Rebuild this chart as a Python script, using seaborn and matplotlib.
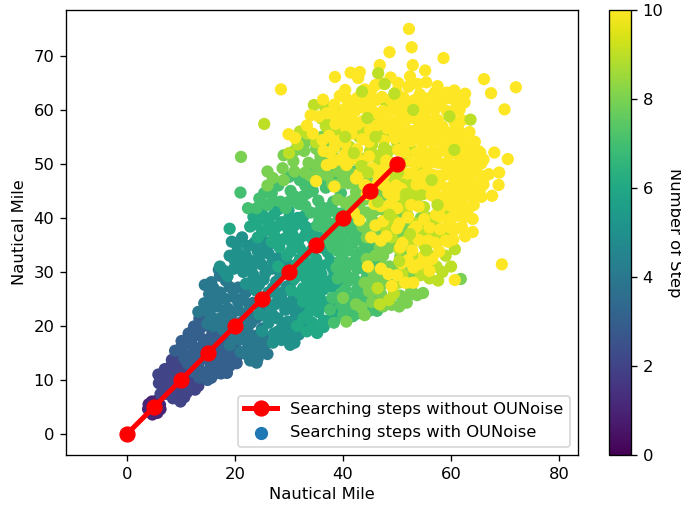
#OUNoise search scatter
import pandas as pd
import matplotlib.pyplot as plt
import seaborn as sns
from matplotlib.cm import ScalarMappable
from matplotlib.colors import Normalize

plt.rcParams['font.size'] = 9.8

# Points, (x, y) per step
step1 = [(3.9,4.6),(4.0,5.5),(4.6,6.0),(5.4,6.1),(6.1,5.4),(6.2,4.6),(5.6,3.9),(4.7,3.6),(5.0,5.0),(4.4,4.2),(5.6,5.3)]
step2 = [(5.8,11),(6.5,10.4),(7.4,11.4),(8.3,13.7),(8.9,14.2),(8.0,12.4),(9.4,13.2),(10.1,13.5),(10.8,12.6),(9.2,11.4),
         (7.7,9.6),(6.6,8.7),(7.4,7.4),(8.8,9.5),(10.1,10.8),(11.6,11.2),(12.0,9.8),(10.7,9.0),(9.3,7.9),(8.5,6.6),
         (9.9,6.0),(11.1,7.7),(12.6,8.2),(13.2,8.9),(13.0,10.6),(7.2,8.5),(6.2,7.4),
         (7.0,10.0),(9.0,12.4),(8.2,10.8),(10.0,12.0),(11.0,10.2),(9.8,8.8),(8.2,7.8),(12.4,9.4),(9.0,6.8),(10.6,6.8),(5.9,9.4),(7.0,12.0)]
step3 = [(8.9,15.4),(10.1,17.2),(11.4,18.6),(12.4,19.9),(13.4,21.4),(14.5,20.2),(13.3,18.3),(11.9,16.6),(10.4,15.1),
         (11.8,14.5),(13.1,15.8),(14.6,17.4),(15.8,18.9),(16.6,17.0),(15.3,15.6),(13.9,13.9),(12.7,12.6),(14.0,11.4),
         (15.5,12.9),(16.9,14.4),(18.2,15.6),(19.2,14.1),(17.7,12.7),(16.3,11.2),(14.9,10.0),(18.5,11.3),(20.3,13.1),
         (19.8,15.8),(17.9,17.4),(12.4,11.5),(11.2,13.0),(20.5,14.6),
         (10.0,16.0),(12.0,17.6),(13.6,19.6),(12.6,14.8),(14.0,16.4),(15.2,17.6),(16.8,15.8),(17.4,18.4),(15.0,14.4),(13.2,12.6),
         (15.0,11.6),(16.8,13.0),(18.2,14.0),(19.0,12.6),(17.4,11.2),(15.6,10.4),(12.0,13.4),(10.6,14.0),(16.4,19.8),(19.0,17.0),
         (20.0,16.6),(13.4,10.4)]
step4 = [(14.4,27.6),(15.6,28.1),(15.2,25.9),(14.3,24.2),(13.2,22.6),(15.9,24.0),(17.2,26.2),(18.3,28.4),(17.2,29.3),
         (16.7,23.6),(15.4,22.0),(14.9,20.4),(17.0,21.3),(18.7,23.2),(19.7,25.4),(20.6,27.1),(21.4,25.0),(20.6,22.9),
         (19.0,21.0),(17.7,19.4),(19.5,18.8),(21.0,20.6),(22.4,22.4),(23.4,24.3),(24.0,21.5),(22.3,19.3),(20.8,17.5),
         (22.4,16.7),(24.0,18.2),(25.0,19.5),(23.5,15.2),(24.2,14.0),(21.0,15.2),(22.8,13.6),(19.0,16.5),(25.5,16.5),(26.0,14.8),
         (15.0,23.0),(16.0,27.0),(16.6,25.0),(18.2,25.0),(19.0,27.2),(18.0,22.0),(16.0,20.0),(19.4,22.2),(20.6,24.4),(22.0,26.2),
         (22.6,24.0),(21.8,21.2),(20.0,19.6),(18.4,20.0),(23.0,20.6),(24.8,22.8),(23.4,18.0),(21.8,18.0),(20.0,17.6),(23.8,16.4),
         (25.2,18.0),(22.0,14.8),(24.0,13.2),(25.0,15.4),(17.0,30.4)]
step5 = [(17.2,31.0),(19.0,33.0),(19.4,35.6),(20.3,35.2),(21.3,36.4),(22.4,34.8),(21.0,32.4),(19.8,30.6),(18.6,29.2),
         (21.5,30.0),(23.0,32.0),(24.2,33.8),(25.2,35.8),(26.2,33.4),(24.9,31.4),(23.4,29.4),(22.0,27.8),(23.8,26.6),
         (25.3,28.6),(26.8,30.6),(28.0,32.6),(29.0,30.2),(27.6,28.2),(26.2,26.2),(24.9,24.4),(26.6,23.4),(28.0,25.3),
         (29.6,27.3),(30.8,25.0),(29.3,23.0),(27.9,21.4),(26.2,20.6),(28.0,19.0),(29.8,20.8),(31.2,22.4),(30.0,18.4),
         (31.0,16.9),(30.2,16.5),(27.0,16.9),(28.6,17.4),(24.5,22.2),(32.6,20.4),(32.0,23.6),
         (18.0,30.2),(20.0,32.0),(20.4,33.8),(22.0,33.0),(23.6,35.4),(21.4,31.0),(23.0,30.4),(24.4,32.4),(25.6,34.0),(27.0,35.4),
         (27.0,32.0),(25.6,29.8),(24.4,27.6),(22.8,28.0),(27.0,27.0),(28.4,29.4),(29.6,31.6),(30.6,28.4),(28.8,26.2),(27.4,24.0),
         (25.6,25.0),(25.8,21.8),(29.0,24.4),(30.4,23.6),(27.0,22.0),(28.8,20.0),(30.4,19.4),(27.2,18.6),(29.2,18.0),(31.8,18.4),
         (31.8,21.0),(33.0,23.0),(25.0,19.0)]
step6 = [(19.0,38.0),(22.8,38.4),(23.4,40.2),(24.9,41.0),(26.2,39.0),(25.0,37.4),(24.2,36.4),(27.2,37.0),(28.6,39.2),
         (29.9,41.4),(31.0,38.6),(29.6,36.4),(28.2,34.6),(30.3,33.8),(31.8,36.0),(33.0,38.4),(34.4,36.0),(33.0,33.4),
         (31.4,31.4),(33.4,30.4),(35.0,32.4),(36.4,34.4),(37.6,32.0),(36.0,29.6),(34.3,27.8),(32.6,27.0),(34.6,25.0),
         (36.4,26.8),(38.0,28.6),(39.0,26.2),(37.2,24.4),(35.4,22.6),(33.4,22.0),(34.6,19.6),(36.4,21.0),(38.0,22.6),
         (35.2,18.7),(33.3,19.0),(31.5,20.0),(39.4,23.5),(32.6,24.5),(34.3,20.6),
         (24.0,38.8),(25.6,40.0),(27.2,40.6),(27.8,38.4),(29.8,38.0),(28.8,36.0),(26.8,35.6),(30.0,40.0),(31.6,40.0),(33.0,36.8),
         (32.0,34.4),(30.6,35.2),(32.0,32.4),(34.2,34.0),(35.6,36.4),(34.6,30.6),(36.0,31.2),(37.2,33.6),(37.0,28.0),(35.0,28.6),
         (33.4,26.4),(35.6,25.6),(38.0,27.2),(38.4,24.6),(36.0,23.6),(34.0,23.4),(32.6,21.4),(37.4,21.0),(39.0,21.8),(36.4,19.8),
         (38.0,30.8),(31.0,28.8),(33.0,29.0),
         (26.0,37.8),(28.0,41.6),(30.6,37.0),(32.6,40.2),(34.4,38.0),(35.0,34.4),(33.2,31.6),(31.0,30.0),(29.6,33.0),(28.0,31.0),
         (32.0,26.0),(34.0,25.6),(36.0,24.6),(38.4,29.8),(39.4,28.0),(37.0,35.6),(35.4,27.0),(30.4,26.6),(33.8,28.8),(32.0,29.8)]
step7 = [(21.0,44.7),(22.4,41.8),(24.5,43.6),(26.8,44.6),(28.4,43.0),(30.3,45.0),(32.0,47.0),(33.4,44.6),(31.8,42.6),
         (34.0,41.0),(35.4,43.2),(36.8,45.6),(38.2,43.0),(36.8,40.6),(35.2,38.6),(37.3,37.2),(39.0,39.4),(40.4,41.2),
         (41.4,38.6),(39.8,36.4),(38.0,34.6),(40.0,33.4),(41.8,35.4),(43.2,37.2),(44.0,34.4),(42.4,32.4),(40.4,30.4),
         (38.8,30.8),(42.0,28.8),(43.8,30.6),(45.2,31.8),(40.4,26.8),(42.0,25.4),(43.6,27.0),(39.6,24.0),(41.2,23.2),
         (42.6,22.3),(46.3,22.8),(38.3,20.6),(44.6,24.6),(47.6,28.0),(46.2,48.0),(42.0,48.5),(38.6,48.2),(34.6,49.0),(30.0,47.6),
         (26.0,42.4),(28.0,46.0),(29.4,41.8),(31.0,44.0),(33.0,46.0),(35.0,47.0),(33.0,42.2),(35.4,41.0),(37.4,39.0),(38.0,41.4),
         (39.6,44.6),(37.2,46.8),(41.4,43.0),(42.4,40.0),(40.4,38.0),(38.4,36.0),(36.4,38.4),(41.4,37.0),(43.0,33.6),(41.0,31.6),
         (39.4,32.0),(44.8,36.0),(45.4,33.6),(42.6,30.6),(44.4,29.0),(41.0,28.4),(42.6,26.8),(39.0,28.8),(41.0,24.8),(43.0,24.4),
         (44.8,22.8),(40.0,22.0),(46.4,25.4),(47.0,30.0),(36.0,42.0),
         (24.0,41.8),(25.4,44.6),(27.0,43.2),(30.0,43.0),(32.6,44.0),(34.4,45.0),(35.6,39.6),(37.6,42.0),(39.0,40.8),(40.8,39.6),
         (39.2,37.6),(37.0,35.8),(38.8,34.0),(41.0,34.0),(42.8,36.0),(44.6,38.0),(42.4,38.2),(44.0,32.0),(46.4,31.4),(46.0,35.0),
         (40.8,29.2),(43.0,28.0),(45.0,27.6),(38.0,25.2),(40.0,23.4),(41.8,21.8),(43.4,25.6),(37.6,23.0),(39.6,26.0),(42.6,41.8),(40.0,35.0)]
step8 = [(21.1,51.3),(27.0,47.4),(28.8,49.2),(30.8,50.5),(32.8,52.4),(34.6,54.4),(33.6,50.2),(35.8,51.4),(37.4,53.4),
         (39.0,55.0),(40.4,52.6),(38.6,50.4),(37.2,47.8),(39.6,46.4),(41.4,48.4),(43.0,50.4),(44.4,46.6),(42.4,44.8),
         (40.4,42.8),(43.0,41.8),(45.0,43.8),(46.8,44.6),(47.6,41.4),(45.4,39.6),(43.6,38.4),(46.6,36.8),(48.6,38.6),
         (50.4,36.4),(48.4,34.4),(46.0,33.0),(48.6,31.0),(50.6,32.8),(45.4,28.4),(47.0,26.0),(44.8,26.4),(49.4,27.8),
         (40.6,20.8),(43.4,23.4),(53.7,25.7),(54.8,26.1),(61.8,28.7),(49.0,23.9),(51.8,24.3),(52.6,30.0),(52.6,34.4),(54.4,40.0),(51.0,41.0),
         (26.0,46.0),(26.0,48.6),(29.0,51.6),(31.0,52.4),(33.0,54.0),(36.0,55.0),(37.0,50.0),(35.0,49.8),(38.0,52.0),(41.6,50.8),
         (39.0,48.6),(41.0,46.4),(43.4,46.4),(42.0,43.4),(44.4,41.0),(45.8,45.2),(48.4,43.0),(46.0,41.4),(44.8,38.2),(47.6,37.8),
         (49.6,40.0),(51.8,38.0),(49.8,35.0),(47.4,33.0),(44.4,32.4),(49.8,31.0),(51.0,30.0),(46.2,29.2),(47.8,28.0),(46.0,26.6),
         (45.4,24.4),(47.4,23.6),(50.6,25.6),(52.6,27.0),(40.0,25.2),
         (29.0,47.0),(31.0,48.6),(33.0,48.4),(35.0,52.8),(36.6,52.6),(38.6,53.6),(36.0,48.4),(34.0,47.8),(38.0,46.2),(40.0,48.0),
         (42.0,46.4),(44.0,43.4),(41.4,41.4),(39.0,43.4),(46.6,39.0),(44.4,36.4),(48.0,36.2),(50.0,38.2),(46.8,34.6),(49.0,29.6),
         (51.2,34.0),(47.4,31.0),(45.6,30.0),(44.0,28.0),(42.4,24.0),(52.4,25.8),(50.4,23.6),(44.0,22.0),(47.2,42.8),(45.0,46.0),(43.0,44.0)]
step9 = [(25.4,57.4),(34.6,60.9),(36.7,60.5),(38.7,59.9),(36.8,57.0),(35.0,54.0),(38.8,56.0),(41.0,58.0),(43.0,55.0),
         (41.2,53.2),(45.4,53.6),(47.4,55.4),(44.0,51.0),(46.6,50.6),(48.4,52.4),(50.2,50.0),(52.8,52.4),(55.0,49.0),
         (49.0,46.8),(52.0,46.4),(53.8,44.0),(50.6,43.4),(49.4,39.6),(52.0,40.4),(55.0,42.0),(57.5,43.2),(54.4,36.8),
         (56.4,38.4),(53.0,33.0),(55.6,33.4),(51.0,29.6),(54.4,29.4),(58.2,36.0),(59.0,40.4),(60.8,44.0),(48.0,61.2),
         (46.4,27.0),(48.5,24.8),(50.3,28.0),(57.3,31.0),(60.7,34.2),
         (32.0,56.0),(37.6,58.6),(40.2,60.0),(39.0,57.6),(43.0,57.0),(44.6,56.0),(45.0,52.4),(47.4,52.0),(50.0,54.0),(48.8,48.4),
         (51.4,50.4),(54.0,48.0),(53.0,45.0),(49.0,45.4),(51.6,42.0),(54.8,44.4),(56.4,46.8),(58.0,41.0),(56.0,40.0),(53.4,39.0),
         (52.0,36.0),(55.0,35.0),(57.0,36.8),(55.0,31.4),(52.4,31.8),(56.0,28.8),(59.0,33.0),(49.0,36.4),(46.0,51.6),(55.0,39.0),
         (30.0,52.0),(31.6,53.6),(33.4,55.6),(36.0,58.4),(41.2,55.8),(46.0,58.0),(44.4,46.0),(46.8,48.0),(48.6,50.4),(50.4,47.0),
         (52.0,44.0),(48.0,38.0),(50.4,34.2),(53.0,36.4),(55.0,37.6),(57.0,39.0),(56.0,33.0),(57.6,28.4),(58.4,30.0),(52.0,28.0),
         (49.4,26.0),(46.8,24.0),(59.0,36.8),(60.0,31.0)]
step10 = [(52.2,75.0),(52.7,71.6),(48.6,70.7),(58.6,69.6),(52.9,68.3),(46.8,68.3),(55.2,67.3),(66.1,65.7),(72.0,64.2),
          (67.4,63.1),(69.9,60.1),(28.5,63.8),(38.5,66.1),(41.4,66.9),(43.1,67.0),(52.4,66.2),(55.4,65.1),(57.5,64.4),
          (59.2,63.2),(62.6,63.0),(62.5,61.4),(70.5,50.9),(68.0,52.1),(68.9,48.4),(68.8,46.1),(67.6,44.1),(65.4,45.4),
          (66.1,47.5),(69.4,31.4),(60.7,28.5),(36.3,61.9),(34.0,59.0),(35.5,58.8),(33.3,57.1),(29.9,55.5),(31.1,54.8),
          (40.4,63.7),(40.7,62.0),(42.8,65.9),(45.2,63.6),(47.2,64.9),(49.9,63.4),(52.1,64.3),(54.2,62.9),(56.6,62.6),
          (58.8,62.1),(60.7,61.8),(41.6,61.2),(43.7,62.4),(46.1,61.8),(50.2,61.5),(52.3,60.9),(54.1,60.6),(56.0,60.4),
          (58.1,60.9),(60.6,59.9),(39.8,59.1),(42.2,59.8),(44.3,60.2),(46.4,59.3),(48.5,59.7),(50.6,58.9),(52.8,58.6),
          (55.1,58.9),(57.0,58.2),(61.3,57.4),(38.6,57.4),(40.6,56.6),(42.6,57.3),(46.2,57.1),(48.2,56.6),(50.4,56.7),
          (52.4,56.1),(54.4,57.0),(56.4,56.3),(58.4,56.9),(60.4,56.0),(62.2,55.4),(37.4,55.2),(39.6,54.4),(41.6,55.6),
          (43.6,54.6),(47.6,54.3),(49.6,54.8),(51.6,54.2),(53.6,54.9),(55.6,54.4),(57.6,54.6),(59.6,54.0),(61.6,53.7),
          (63.2,53.1),(65.0,52.4),(36.4,52.4),(38.4,53.0),(42.6,52.7),(50.2,52.6),(54.6,52.8),(56.6,52.2),(58.6,52.7),
          (60.6,51.9),(62.6,51.6),(64.2,50.6),(66.0,50.8),(37.0,49.8),(39.4,50.8),(41.0,50.4),(45.4,49.2),(47.4,49.0),
          (52.6,50.4),(54.6,50.6),(56.6,50.4),(58.6,50.0),(60.6,49.6),(62.6,49.3),(64.6,48.7),(42.4,47.3),(46.4,46.4),
          (51.0,48.4),(53.0,48.2),(56.6,48.0),(58.6,47.9),(60.6,47.4),(62.6,47.0),(64.0,46.4),(44.4,44.4),(48.4,44.6),
          (50.8,45.4),(55.0,46.4),(57.2,45.8),(59.2,45.4),(61.2,45.6),(63.0,44.8),(48.6,42.4),(52.6,42.4),(56.4,44.2),
          (58.4,43.0),(60.4,42.4),(62.2,43.7),(64.2,42.4),(47.4,39.4),(53.6,38.4),(57.2,40.6),(59.4,38.6),(61.0,40.4),
          (63.0,40.8),(61.0,38.0),(62.0,38.3),(51.5,28.0),(53.0,28.0),(56.5,32.4),(50.6,34.6),(45.2,36.4),(42.0,41.0),
          (38.4,45.8),(35.0,46.8),(55.8,35.8),(59.4,35.6),(54.0,31.4),(48.4,29.6),
          (42.6,62.2),(44.8,61.8),(47.2,62.4),(48.8,61.9),(51.2,62.3),(53.2,61.8),(55.2,62.1),(57.4,61.7),(59.8,62.2),(61.6,62.0),
          (40.4,60.2),(43.0,60.4),(45.2,60.1),(47.4,59.8),(49.4,60.3),(51.4,59.9),(53.2,60.2),(55.2,59.7),(57.0,60.1),(59.2,59.8),(61.6,60.1),
          (39.6,58.2),(41.6,58.4),(43.6,57.9),(47.4,58.2),(49.4,57.8),(51.6,58.1),(53.6,58.3),(55.6,57.9),(57.6,58.1),(60.6,57.8),(62.0,58.1),
          (41.4,56.1),(45.0,56.3),(49.4,56.0),(51.2,55.8),(53.4,56.2),(55.4,55.9),(57.6,56.1),(59.4,55.8),(61.4,56.2),(63.4,55.9),
          (38.4,54.2),(40.4,53.8),(44.8,54.1),(52.6,54.2),(54.6,53.9),(56.6,54.0),(58.6,53.8),(60.6,54.2),(62.6,53.9),(64.4,54.1),
          (37.6,52.1),(40.4,51.8),(51.4,52.2),(53.6,52.0),(55.6,51.7),(57.6,52.1),(59.6,51.8),(61.6,52.2),(63.6,51.9),(65.4,52.1),
          (38.0,50.2),(40.6,49.8),(53.6,50.1),(55.6,49.8),(57.6,50.2),(59.6,49.9),(61.6,50.1),(63.6,49.8),(65.6,50.1),
          (43.0,48.1),(47.6,47.8),(52.0,48.2),(54.6,47.9),(55.6,48.3),(57.6,47.8),(59.6,48.1),(61.6,47.9),(63.6,48.2),(65.6,47.8),(67.0,48.1),
          (44.0,46.1),(47.8,45.9),(53.6,46.2),(56.0,45.9),(58.0,46.2),(60.0,45.8),(62.0,46.1),(64.0,45.9),(66.0,46.2),
          (49.6,44.1),(57.6,43.9),(59.6,44.2),(61.6,43.8),(64.0,44.1),(65.6,43.9),
          (47.0,42.2),(50.0,41.8),(54.0,42.1),(58.0,41.9),(60.0,42.2),(62.0,41.8),(63.6,42.1),
          (52.0,40.1),(55.0,39.8),(58.0,40.2),(60.0,39.9),(62.4,40.1),(64.0,39.8),
          (50.0,38.1),(53.0,37.8),(56.0,38.2),(58.0,37.9),(60.0,38.1),
          (47.0,35.8),(51.0,35.4),(54.0,35.9),(57.0,35.4),(59.0,35.8),
          (52.0,32.2),(55.0,31.9),(47.0,30.6),(50.0,29.4),(53.0,30.8),(56.0,30.2),
          (37.0,59.4),(38.4,61.0),(39.4,62.6),(38.4,59.0),(44.0,63.8),(46.0,64.6),(48.8,66.0),(50.2,65.0),(53.8,64.8),(57.0,63.2),
          (60.6,63.6),(36.2,54.4),(34.4,55.6),(42.8,50.8),(44.8,51.4),(46.4,48.0),(48.0,50.6),(49.8,46.0),(45.8,42.6),(43.0,39.6),
          (46.0,38.6),(50.4,39.0),(48.0,36.6),(52.8,34.0),(55.0,33.0),(57.8,33.8),(50.8,31.6),(60.4,36.0),(62.6,36.6),(64.0,37.4),
          (44.6,31.0),(49.0,27.4)]
# These sit on top of the yellow mass
top9 = [(46.5,66.8),(47.7,64.8),(43.5,63.4),(44.5,58.5),(59.7,58.8),(63.6,58.2),(53.0,60.0),(49.5,63.0),(42.0,52.0),
        (57.5,42.4),(50.2,48.4),(46.0,55.0),(44.6,48.4),(51.6,44.4),(60.6,52.6),(48.6,40.6),(52.4,37.0),(55.4,34.0),
        (50.4,32.0),(46.4,43.0),(43.4,49.6),(40.4,55.0),(56.4,47.0),(47.6,53.0)]

search_x = [0, 5, 10, 15, 20, 25, 30, 35, 40, 45, 50]
search_y = [0, 5, 10, 15, 20, 25, 30, 35, 40, 45, 50]

groups = [(1, step1), (2, step2), (3, step3), (4, step4), (5, step5), (6, step6),
          (7, step7), (8, step8), (9, step9), (10, step10), (9, top9)]
rows = []
for step, pts in groups:
    for px, py in pts:
        rows.append({'x': px, 'y': py, 'step': step})
df = pd.DataFrame(rows)

fig = plt.figure(figsize=(681/120, 506/120), dpi=120)
ax = fig.add_axes([66/681, 1-455/506, (578-66)/681, (455-10)/506])
cax = fig.add_axes([609/681, 1-455/506, (631-609)/681, (455-10)/506])

sns.scatterplot(data=df, x='x', y='y', hue='step', palette='viridis', hue_norm=(0, 10),
                s=54, linewidth=0, legend=False, ax=ax, zorder=2)
sns.lineplot(x=search_x, y=search_y, color='red', linewidth=3, marker='o', markersize=9,
             markeredgecolor='red', label='Searching steps without OUNoise', ax=ax, zorder=3)
ax.scatter([], [], s=48, color='#1f77b4', label='Searching steps with OUNoise')

ax.set_xlim(-11.3, 83.5)
ax.set_ylim(-3.9, 78.5)
ax.set_xticks([0, 20, 40, 60, 80])
ax.set_yticks([0, 10, 20, 30, 40, 50, 60, 70])
ax.set_xlabel('Nautical Mile', labelpad=3)
ax.set_ylabel('Nautical Mile')
ax.legend(loc='lower right', fontsize=9.8)

sm = ScalarMappable(norm=Normalize(0, 10), cmap='viridis')
cbar = fig.colorbar(sm, cax=cax)
cbar.set_ticks([0, 2, 4, 6, 8, 10])
cbar.set_label('Number of Step', rotation=270, labelpad=11)

plt.savefig('out.png', dpi=120)
